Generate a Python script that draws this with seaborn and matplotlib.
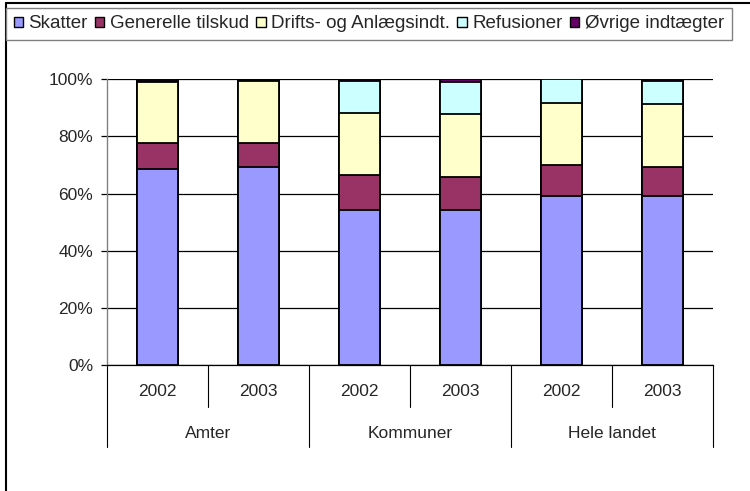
import matplotlib
matplotlib.use("Agg")
import matplotlib.pyplot as plt
from matplotlib.lines import Line2D
from matplotlib.patches import Patch
from matplotlib.ticker import PercentFormatter
import pandas as pd
import seaborn as sns


GROUPS = ["Amter", "Kommuner", "Hele landet"]
YEARS = ["2002", "2003"]
SERIES = ["Skatter", "Generelle tilskud", "Drifts- og Anlægsindt.", "Refusioner", "Øvrige indtægter"]
COLORS = ["#9999FF", "#993366", "#FFFFCC", "#CCFFFF", "#660066"]

# shares in percent, order: Amter 02, Amter 03, Kommuner 02, Kommuner 03, Hele landet 02, Hele landet 03
skatter = [68.6, 69.3, 54.4, 54.3, 59.2, 59.2]
generelle = [9.2, 8.4, 12.0, 11.5, 10.7, 10.1]
drifts = [21.3, 21.8, 21.9, 22.0, 21.9, 22.1]
refusioner = [0.3, 0.3, 11.2, 11.2, 8.2, 8.1]
oevrige = [0.6, 0.2, 0.5, 1.0, 0.0, 0.5]


def main() -> None:
    sns.set_style("white")
    plt.rcParams["font.family"] = ["Liberation Sans", "DejaVu Sans"]
    plt.rcParams["font.size"] = 12.5

    columns = [f"{g} {y}" for g in GROUPS for y in YEARS]
    df = pd.DataFrame(
        {"kolonne": columns, "Skatter": skatter, "Generelle tilskud": generelle,
         "Drifts- og Anlægsindt.": drifts, "Refusioner": refusioner, "Øvrige indtægter": oevrige}
    )
    totals = df[SERIES].sum(axis=1)
    shares = df[SERIES].div(totals, axis=0)
    cum = shares.cumsum(axis=1)
    cum["kolonne"] = df["kolonne"]

    fig = plt.figure(figsize=(7.5, 4.91), dpi=100)
    ax = fig.add_axes([107 / 750, 1 - 365.3 / 491, 606 / 750, 286 / 491])

    ax.set_axisbelow(True)
    ax.yaxis.grid(True, color="black", linewidth=0.9)

    # draw from the top layer down so each lower layer covers the one above
    for name, color in reversed(list(zip(SERIES, COLORS))):
        sns.barplot(data=cum, x="kolonne", y=name, order=columns, color=color,
                    saturation=1, width=0.41, edgecolor="black", linewidth=1.3,
                    errorbar=None, ax=ax)

    ax.set_ylim(0, 1)
    ax.set_xlim(-0.5, len(columns) - 0.5)
    ax.set_yticks([0, 0.2, 0.4, 0.6, 0.8, 1.0])
    ax.yaxis.set_major_formatter(PercentFormatter(1.0, decimals=0))
    ax.tick_params(axis="y", left=True, length=4, width=0.9, color="black", pad=6)
    ax.set_xticks([])
    ax.set_xlabel("")
    ax.set_ylabel("")
    for side in ["top", "right"]:
        ax.spines[side].set_visible(False)
    ax.spines["left"].set_color("#808080")
    ax.spines["left"].set_linewidth(1.0)
    ax.spines["bottom"].set_color("black")
    ax.spines["bottom"].set_linewidth(0.9)

    # two-level category axis
    trans = ax.get_xaxis_transform()
    for i, col in enumerate(columns):
        ax.text(i, -0.093, col.split()[-1], transform=trans, ha="center", va="center")
    for j, group in enumerate(GROUPS):
        ax.text(j * 2 + 0.5, -0.237, group, transform=trans, ha="center", va="center")
    for k in range(len(columns) + 1):
        xpos = k - 0.5
        depth = -0.286 if k % 2 == 0 else -0.146
        ax.plot([xpos, xpos], [0, depth], transform=trans, color="black",
                linewidth=0.8, clip_on=False)

    # legend box at the top
    handles = [Patch(facecolor=c, edgecolor="black", linewidth=1.0) for c in COLORS]
    fig.legend(handles, SERIES, loc="upper left", bbox_to_anchor=(6 / 750, 1 - 8 / 491),
               ncol=5, frameon=True, fancybox=False, edgecolor="#808080",
               framealpha=1, borderaxespad=0, handlelength=0.5, handleheight=0.5,
               handletextpad=0.3, columnspacing=0.38, borderpad=0.4, fontsize=13.5)

    # outer chart frame (top and left edges)
    fig.add_artist(Line2D([6 / 750, 1], [1 - 3 / 491, 1 - 3 / 491], transform=fig.transFigure,
                          color="black", linewidth=1.5))
    fig.add_artist(Line2D([6 / 750, 6 / 750], [0, 1 - 3 / 491], transform=fig.transFigure,
                          color="black", linewidth=1.5))

    fig.savefig("out.png", dpi=100)
    plt.close(fig)


if __name__ == "__main__":
    main()
